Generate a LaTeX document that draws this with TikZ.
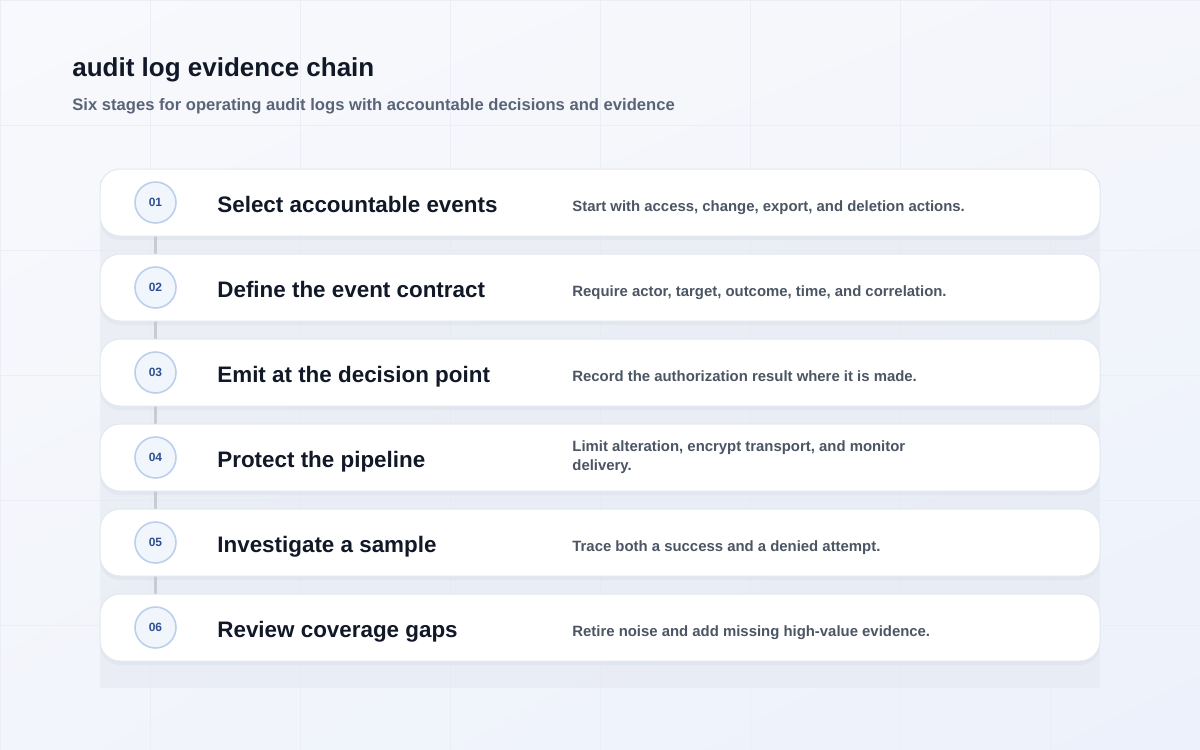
\documentclass[tikz,border=0pt]{standalone}
\usepackage{fontspec}
\setmainfont{Liberation Sans}
\usetikzlibrary{positioning,backgrounds,shadows,shadings}

\definecolor{bgtl}{HTML}{F8F9FC}
\definecolor{bgtr}{HTML}{F4F6FB}
\definecolor{bgbl}{HTML}{F2F5FB}
\definecolor{bgbr}{HTML}{ECF1FB}
\definecolor{gridc}{HTML}{EBEEF5}
\definecolor{panelc}{HTML}{E4E8F1}
\definecolor{cardline}{HTML}{E3E7EE}
\definecolor{shadowc}{HTML}{B9C1D3}
\definecolor{numline}{HTML}{BCD0EE}
\definecolor{numfill}{HTML}{F1F5FC}
\definecolor{numtext}{HTML}{2E4F93}
\definecolor{ink}{HTML}{111827}
\definecolor{muted}{HTML}{4B5563}
\definecolor{subink}{HTML}{5A6478}
\definecolor{linkgray}{HTML}{C8CBD3}

\begin{document}
\begin{tikzpicture}[x=0.5pt,y=-0.5pt,
    card/.style={draw=cardline, line width=0.5pt, fill=white, rounded corners=10pt,
        minimum width=500pt, minimum height=33.5pt, inner sep=0pt, outer sep=0pt,
        drop shadow={shadow xshift=0pt, shadow yshift=-2pt, opacity=0.15, fill=shadowc}},
    stepnum/.style={circle, draw=numline, line width=0.8pt, fill=numfill, minimum size=20.5pt,
        inner sep=0pt, outer sep=0pt, text=numtext, font=\fontsize{6}{7}\selectfont\bfseries},
    stagetitle/.style={text=ink, inner sep=0pt, text height=8pt, text depth=0pt, yshift=-1pt,
        font=\fontsize{11.2}{13}\selectfont\bfseries},
    stagedesc/.style={text=muted, inner sep=0pt, align=left,
        font=\fontsize{7.45}{9.5}\selectfont\bfseries},
    oneline/.style={text height=5.3pt, text depth=0pt, yshift=-1.6pt},
    link/.style={draw=linkgray, line width=1.6pt}]

    \useasboundingbox (0,0) rectangle (1200,750);

    % heading
    \node[anchor=base west, inner sep=0pt, text=ink, font=\fontsize{13}{15}\selectfont\bfseries]
        (heading) at (72,76) {audit log evidence chain};
    \node[anchor=base west, inner sep=0pt, text=subink, font=\fontsize{8.3}{10}\selectfont\bfseries]
        (subheading) at (72,110) {Six stages for operating audit logs with accountable decisions and evidence};

    % stage cards
    \node[card] (c1) at (600,202.5) {};
    \node[card, below=9pt of c1] (c2) {};
    \node[card, below=9pt of c2] (c3) {};
    \node[card, below=9pt of c3] (c4) {};
    \node[card, below=9pt of c4] (c5) {};
    \node[card, below=9pt of c5] (c6) {};

    \node[stepnum, right=17.5pt of c1.west] (n1) {01};
    \node[stepnum, right=17.5pt of c2.west] (n2) {02};
    \node[stepnum, right=17.5pt of c3.west] (n3) {03};
    \node[stepnum, right=17.5pt of c4.west] (n4) {04};
    \node[stepnum, right=17.5pt of c5.west] (n5) {05};
    \node[stepnum, right=17.5pt of c6.west] (n6) {06};

    \node[stagetitle, right=20.5pt of n1] (t1) {Select accountable events};
    \node[stagetitle, right=20.5pt of n2] (t2) {Define the event contract};
    \node[stagetitle, right=20.5pt of n3] (t3) {Emit at the decision point};
    \node[stagetitle, right=20.5pt of n4] (t4) {Protect the pipeline};
    \node[stagetitle, right=20.5pt of n5] (t5) {Investigate a sample};
    \node[stagetitle, right=20.5pt of n6] (t6) {Review coverage gaps};

    \node[stagedesc, oneline, right=236pt of c1.west] (d1) {Start with access, change, export, and deletion actions.};
    \node[stagedesc, oneline, right=236pt of c2.west] (d2) {Require actor, target, outcome, time, and correlation.};
    \node[stagedesc, oneline, right=236pt of c3.west] (d3) {Record the authorization result where it is made.};
    \node[stagedesc, right=236pt of c4.west] (d4) {Limit alteration, encrypt transport, and monitor\\delivery.};
    \node[stagedesc, oneline, right=236pt of c5.west] (d5) {Trace both a success and a denied attempt.};
    \node[stagedesc, oneline, right=236pt of c6.west] (d6) {Retire noise and add missing high-value evidence.};

    \begin{pgfonlayer}{background}
        \shade[upper left=bgtl, upper right=bgtr, lower left=bgbl, lower right=bgbr] (0,0) rectangle (1200,750);
        \draw[gridc, line width=0.4pt] (0,0) grid[xstep=75pt, ystep=62.5pt] (1200,750);
        \fill[panelc, opacity=0.55] (100,180) rectangle (1100,688);
        \draw[link] (n1) -- (n2);
        \draw[link] (n2) -- (n3);
        \draw[link] (n3) -- (n4);
        \draw[link] (n4) -- (n5);
        \draw[link] (n5) -- (n6);
    \end{pgfonlayer}
\end{tikzpicture}
\end{document}
